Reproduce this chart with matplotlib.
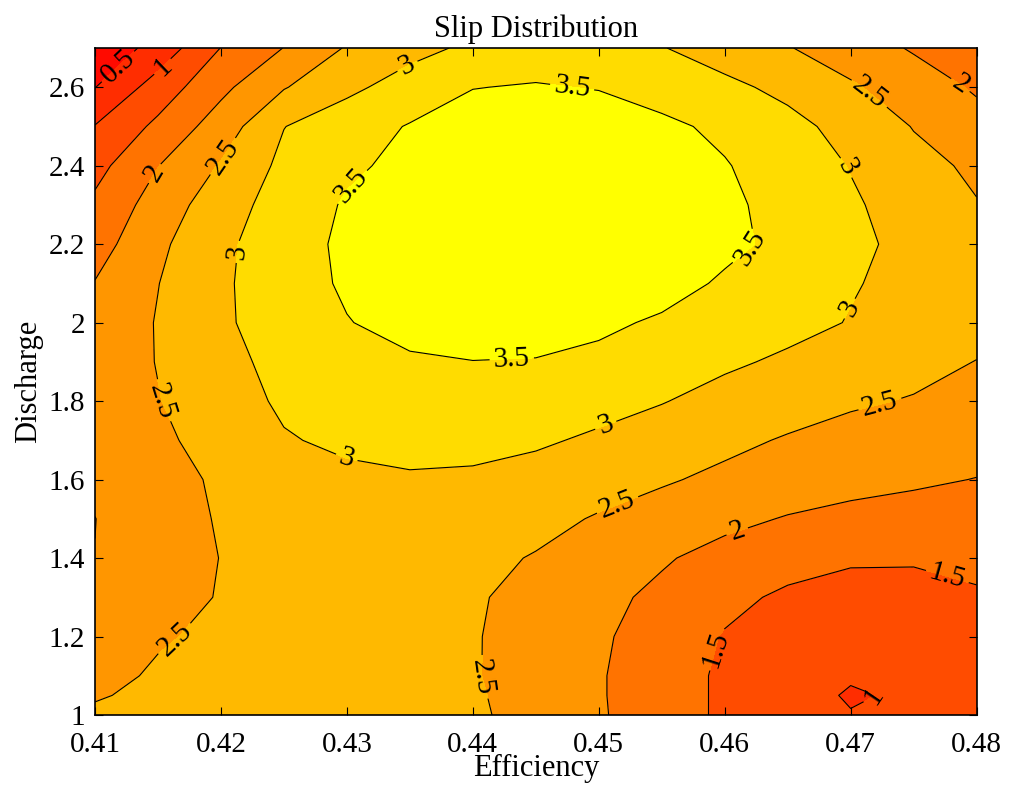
import numpy as np
import matplotlib.pyplot as plt

# grille efficiency / discharge
efficiency = [0.410, 0.415, 0.420, 0.425, 0.430, 0.435, 0.440, 0.445,
              0.450, 0.455, 0.460, 0.465, 0.470, 0.475, 0.480]
discharge = [1.0, 1.05, 1.1, 1.2, 1.3, 1.4, 1.5, 1.6, 1.7, 1.8, 1.9,
             2.0, 2.1, 2.2, 2.3, 2.4, 2.5, 2.6, 2.7]

# slip values, one row per discharge value (bottom to top)
slip_100 = [2.56, 2.62, 2.65, 2.67, 2.66, 2.62, 2.57, 2.34, 2.05, 1.73, 1.42, 1.18, 1.02, 1.06, 1.15]
slip_105 = [2.47, 2.58, 2.63, 2.66, 2.65, 2.61, 2.55, 2.33, 2.04, 1.73, 1.42, 1.17, 0.96, 1.06, 1.17]
slip_110 = [2.38, 2.55, 2.62, 2.65, 2.65, 2.61, 2.53, 2.32, 2.04, 1.73, 1.42, 1.20, 1.04, 1.10, 1.20]
slip_120 = [2.22, 2.46, 2.58, 2.64, 2.66, 2.62, 2.53, 2.33, 2.07, 1.78, 1.47, 1.30, 1.18, 1.20, 1.30]
slip_130 = [2.08, 2.30, 2.53, 2.65, 2.69, 2.65, 2.55, 2.36, 2.12, 1.90, 1.62, 1.42, 1.32, 1.33, 1.44]
slip_140 = [2.005, 2.25, 2.51, 2.65, 2.71, 2.70, 2.62, 2.47, 2.26, 2.05, 1.84, 1.68, 1.56, 1.55, 1.63]
slip_150 = [1.995, 2.28, 2.54, 2.72, 2.82, 2.84, 2.78, 2.64, 2.46, 2.30, 2.12, 1.97, 1.88, 1.84, 1.82]
slip_160 = [2.08, 2.30, 2.58, 2.80, 2.92, 2.96, 2.93, 2.84, 2.70, 2.55, 2.40, 2.26, 2.14, 2.06, 1.99]
slip_170 = [2.15, 2.40, 2.70, 2.97, 3.07, 3.12, 3.13, 3.06, 2.93, 2.78, 2.61, 2.46, 2.34, 2.25, 2.16]
slip_180 = [2.20, 2.48, 2.82, 3.06, 3.20, 3.28, 3.31, 3.26, 3.15, 3.02, 2.85, 2.70, 2.56, 2.47, 2.38]
slip_190 = [2.18, 2.52, 2.88, 3.12, 3.30, 3.44, 3.49, 3.47, 3.38, 3.24, 3.07, 2.93, 2.77, 2.64, 2.49]
slip_200 = [2.12, 2.53, 2.93, 3.22, 3.48, 3.66, 3.77, 3.76, 3.60, 3.43, 3.28, 3.13, 2.98, 2.84, 2.66]
slip_210 = [2.02, 2.49, 2.93, 3.26, 3.57, 3.75, 3.87, 3.92, 3.85, 3.70, 3.43, 3.22, 3.03, 2.88, 2.75]
slip_220 = [1.79, 2.40, 2.90, 3.27, 3.60, 3.78, 3.90, 3.95, 3.93, 3.84, 3.62, 3.37, 3.08, 2.90, 2.70]
slip_230 = [1.60, 2.22, 2.78, 3.21, 3.55, 3.72, 3.85, 3.92, 3.90, 3.80, 3.60, 3.33, 3.06, 2.80, 2.52]
slip_240 = [1.34, 1.99, 2.54, 3.12, 3.42, 3.62, 3.77, 3.86, 3.84, 3.74, 3.53, 3.26, 2.98, 2.64, 2.42]
slip_250 = [1.02, 1.61, 2.24, 2.99, 3.28, 3.53, 3.68, 3.75, 3.72, 3.60, 3.40, 3.14, 2.84, 2.48, 2.15]
slip_260 = [0.49, 1.22, 1.88, 2.47, 2.89, 3.21, 3.49, 3.53, 3.48, 3.30, 3.11, 2.88, 2.57, 2.21, 1.95]
slip_270 = [0.10, 0.69, 1.51, 2.01, 2.54, 2.85, 3.09, 3.28, 3.22, 3.02, 2.78, 2.53, 2.21, 1.96, 1.85]

slip = np.array([slip_100, slip_105, slip_110, slip_120, slip_130, slip_140,
                 slip_150, slip_160, slip_170, slip_180, slip_190, slip_200,
                 slip_210, slip_220, slip_230, slip_240, slip_250, slip_260,
                 slip_270])

niveaux = [0.5, 1.0, 1.5, 2.0, 2.5, 3.0, 3.5]
couleurs = ["#ff0a00", "#ff2d00", "#ff4c00", "#ff7300", "#ff9600",
            "#ffb900", "#ffdc00", "#ffff00"]

# positions des etiquettes de contour
pos_labels = [(0.4124, 2.633), (0.4158, 2.638), (0.4149, 2.377), (0.4202, 2.423),
              (0.4348, 2.654), (0.4479, 2.605), (0.4304, 2.346), (0.4215, 2.18),
              (0.4616, 2.205), (0.4698, 2.397), (0.4698, 2.038), (0.4713, 2.577),
              (0.4783, 2.585), (0.4144, 1.795), (0.4431, 1.90), (0.4298, 1.641),
              (0.4507, 1.726), (0.4723, 1.795), (0.4513, 1.551), (0.4610, 1.467),
              (0.4775, 1.333), (0.4594, 1.167), (0.4167, 1.18), (0.4400, 1.09),
              (0.4721, 1.03)]

plt.rcParams['font.family'] = ['Liberation Serif', 'DejaVu Serif']

fig = plt.figure(figsize=(10.11, 7.87), dpi=100)
ax = fig.add_axes([0.094, 0.0915, 0.872, 0.8475])

X, Y = np.meshgrid(efficiency, discharge)
ax.contourf(X, Y, slip, levels=[0.0] + niveaux + [4.0], colors=couleurs)
cs = ax.contour(X, Y, slip, levels=niveaux, colors='k', linewidths=0.8)
ax.clabel(cs, fmt='%g', fontsize=21, inline=True, inline_spacing=4, manual=pos_labels)

ax.set_xlim(0.41, 0.48)
ax.set_ylim(1.0, 2.7)
ax.set_xticks([0.41, 0.42, 0.43, 0.44, 0.45, 0.46, 0.47, 0.48])
ax.set_xticklabels(["0.41", "0.42", "0.43", "0.44", "0.45", "0.46", "0.47", "0.48"])
ax.set_yticks([1.0, 1.2, 1.4, 1.6, 1.8, 2.0, 2.2, 2.4, 2.6])
ax.set_yticklabels(["1", "1.2", "1.4", "1.6", "1.8", "2", "2.2", "2.4", "2.6"])
ax.tick_params(direction='in', top=True, right=True, labelsize=21, length=6)
ax.tick_params(axis='x', pad=12)
ax.tick_params(axis='y', pad=7)
for s in ax.spines.values():
    s.set_linewidth(1.2)

ax.set_title("Slip Distribution", fontsize=22, pad=8)
ax.set_xlabel("Efficiency", fontsize=22, labelpad=-3)
ax.set_ylabel("Discharge", fontsize=22, labelpad=4)

plt.savefig("out.png", dpi=100)
